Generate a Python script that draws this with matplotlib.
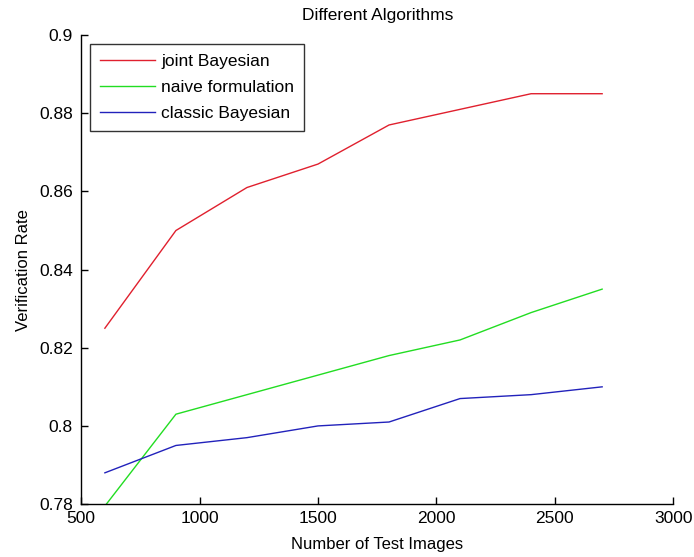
import matplotlib
matplotlib.use("Agg")
import matplotlib.pyplot as plt

# data
n_images  = [600, 900, 1200, 1500, 1800, 2100, 2400, 2700]
joint     = [0.825, 0.850, 0.861, 0.867, 0.877, 0.881, 0.885, 0.885]
naive     = [0.7795, 0.803, 0.808, 0.813, 0.818, 0.822, 0.829, 0.835]
classic   = [0.788, 0.795, 0.797, 0.800, 0.801, 0.807, 0.808, 0.810]
x_ticks   = [500, 1000, 1500, 2000, 2500, 3000]
y_ticks   = [0.78, 0.8, 0.82, 0.84, 0.86, 0.88, 0.9]
y_labels  = ["0.78", "0.8", "0.82", "0.84", "0.86", "0.88", "0.9"]

plt.rcParams["font.family"] = ["Liberation Sans", "DejaVu Sans"]

fig = plt.figure(figsize=(6.94, 5.57), dpi=100)
ax = fig.add_axes([0.117, 0.095, 0.853, 0.842])

ax.plot(n_images, joint, color="#e0202e", lw=1.0, label="joint Bayesian")
ax.plot(n_images, naive, color="#22dd22", lw=1.0, label="naive formulation")
ax.plot(n_images, classic, color="#2222bb", lw=1.0, label="classic Bayesian")

ax.set_xlim(500, 3000)
ax.set_ylim(0.78, 0.9)
ax.set_xticks(x_ticks)
ax.set_yticks(y_ticks)
ax.set_yticklabels(y_labels)
ax.tick_params(direction="in", length=5, width=1, labelsize=12.5)
ax.tick_params(axis="x", pad=5)
ax.tick_params(axis="y", pad=6)
ax.spines["top"].set_visible(False)
ax.spines["right"].set_visible(False)
ax.spines["left"].set_linewidth(1)
ax.spines["bottom"].set_linewidth(1)

ax.set_title("Different Algorithms", fontsize=12.5, pad=11)
ax.set_xlabel("Number of Test Images", fontsize=12, labelpad=8)
ax.set_ylabel("Verification Rate", fontsize=12, labelpad=6)

leg = ax.legend(loc="upper left", bbox_to_anchor=(0.015, 0.98), fontsize=12.5,
                frameon=True, fancybox=False, handlelength=3.2, handletextpad=0.35,
                borderpad=0.55, labelspacing=0.62, borderaxespad=0)
leg.get_frame().set_edgecolor("black")
leg.get_frame().set_linewidth(1)

fig.savefig("out.png", dpi=100)
